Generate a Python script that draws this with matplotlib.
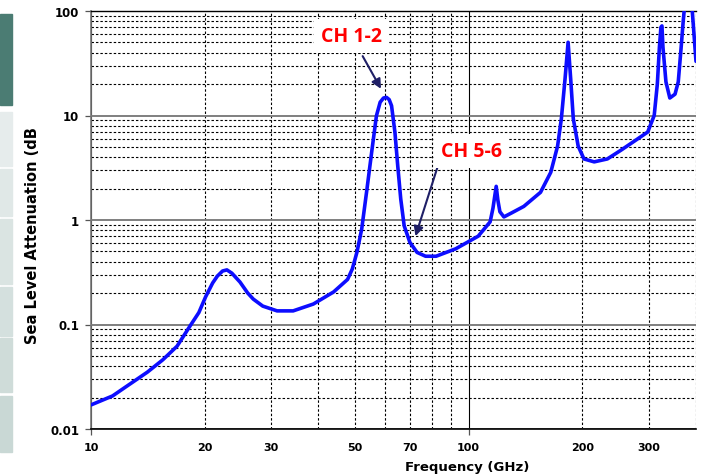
import numpy as np
import matplotlib
matplotlib.use("Agg")
import matplotlib.pyplot as plt
from matplotlib.patches import Rectangle
from matplotlib.ticker import LogLocator, FixedLocator, NullFormatter

# sea level attenuation (GHz, dB)
freq = [10, 11.4, 12.5, 14.1, 15.5, 16.9, 18.3, 19.3, 20.1, 21.0, 21.6, 22.3,
        22.9, 23.6, 24.8, 26.0, 26.9, 28.5, 31.1, 34.3, 38.8, 43.9, 47.8, 49.2,
        50.6, 52.1, 53.8, 55.5, 57.0, 58.3, 59.5, 60.6, 61.6, 62.5, 63.8, 64.9,
        66.1, 67.5, 69.9, 73.0, 76.9, 82, 92.4, 106, 114, 116, 118.3, 119.5,
        121, 124, 130, 140, 155, 165, 172, 176, 180, 183.4, 186.3, 189.3, 195,
        202, 215, 233, 253, 275, 298, 310, 316, 320, 323, 325, 327, 333, 341,
        352, 359, 365, 370, 376, 384, 391, 400]
atten = [0.017, 0.0207, 0.026, 0.035, 0.046, 0.062, 0.097, 0.13, 0.183, 0.25,
         0.29, 0.325, 0.333, 0.31, 0.255, 0.2, 0.175, 0.15, 0.135, 0.135,
         0.157, 0.205, 0.27, 0.34, 0.49, 0.82, 1.98, 4.78, 9.95, 13.4, 14.7,
         14.9, 14.2, 12.4, 6.9, 3.3, 1.59, 0.88, 0.61, 0.49, 0.45, 0.45, 0.53,
         0.70, 0.96, 1.3, 2.1, 1.55, 1.2, 1.07, 1.17, 1.35, 1.84, 2.86, 5.1,
         9.3, 22.4, 50.2, 22.4, 9.3, 5.1, 3.84, 3.6, 3.84, 4.65, 5.7, 6.95, 10,
         20, 45, 70, 72, 45, 21, 14.7, 16, 21, 43, 80, 150, 180, 100, 33]

x_labels = [10, 20, 30, 50, 70, 100, 200, 300]
y_labels = [0.01, 0.1, 1, 10, 100]

fig = plt.figure(figsize=(7.1, 4.77), dpi=100)

# slide side strip on the left edge
W, H = 710, 477
strip = [(15, 106, "#4b7c73"), (113, 167, "#e6ecec"), (170, 217, "#e0e8e7"),
         (220, 285, "#dae4e2"), (288, 337, "#d4e0de"), (339, 393, "#cfdcd9"),
         (397, 453, "#c9d8d5")]
for y0, y1, col in strip:
    fig.patches.append(Rectangle((0, 1 - y1 / H), 12 / W, (y1 - y0) / H,
                                 transform=fig.transFigure, color=col, zorder=0))

ax = fig.add_axes([91 / W, 1 - 430 / H, 605 / W, 418 / H])
ax.set_xscale("log")
ax.set_yscale("log")
ax.set_xlim(10, 400)
ax.set_ylim(0.01, 100)

ax.plot(freq, atten, color="#0d0dff", lw=2.6, solid_joinstyle="round",
        solid_capstyle="round", zorder=3, clip_on=True)

# grids
ax.xaxis.set_major_locator(FixedLocator([10, 100]))
ax.xaxis.set_minor_locator(LogLocator(base=10, subs=np.arange(2, 10)))
ax.yaxis.set_major_locator(LogLocator(base=10))
ax.yaxis.set_minor_locator(LogLocator(base=10, subs=np.arange(2, 10)))
ax.xaxis.grid(True, which="major", color="black", lw=0.8, ls="-")
ax.xaxis.grid(True, which="minor", color="black", lw=0.8, ls=(0, (2.2, 1.8)))
ax.yaxis.grid(True, which="major", color="#7f7f7f", lw=1.4, ls="-")
ax.yaxis.grid(True, which="minor", color="black", lw=0.8, ls=(0, (2.2, 1.8)))
ax.set_axisbelow(True)

ax.xaxis.set_major_formatter(NullFormatter())
ax.xaxis.set_minor_formatter(NullFormatter())
ax.yaxis.set_minor_formatter(NullFormatter())
ax.set_yticks(y_labels)
ax.set_yticklabels(["0.01", "0.1", "1", "10", "100"])
ax.tick_params(axis="both", which="major", length=4, width=0.9, color="#555555")
ax.tick_params(axis="both", which="minor", length=0)
ax.tick_params(axis="y", pad=4.5)
for lab in ax.get_yticklabels():
    lab.set_fontweight("bold")
    lab.set_fontsize(8.5)
    lab.set_family("DejaVu Sans")

for v in x_labels:
    ax.text(v, -0.042, str(v), transform=ax.get_xaxis_transform(),
            ha="center", va="center", fontsize=8, fontweight="bold",
            family="DejaVu Sans")

ax.spines["right"].set_visible(False)
ax.spines["top"].set_color("black")
ax.spines["top"].set_linewidth(1.0)
ax.spines["left"].set_color("#777777")
ax.spines["left"].set_linewidth(1.2)
ax.spines["bottom"].set_color("black")
ax.spines["bottom"].set_linewidth(1.2)

fig.text(33 / W, 1 - 236 / H, "Sea Level Attenuation (dB", rotation=90,
         ha="center", va="center", fontsize=10.5, fontweight="bold",
         family="DejaVu Sans")
fig.text(467 / W, 1 - 468 / H, "Frequency (GHz)", ha="center", va="center",
         fontsize=9.5, fontweight="bold", family="DejaVu Sans")

# channel annotations
box = dict(facecolor="white", edgecolor="none", pad=5)
ax.annotate("", xy=(58.6, 18.0), xytext=(52.4, 37),
            arrowprops=dict(arrowstyle="-|>", color="#1f1f66", lw=1.5,
                            mutation_scale=14, shrinkA=0, shrinkB=0))
ax.text(49.0, 58, "CH 1-2", color="#ff0000", fontsize=14, fontweight="bold",
        ha="center", va="center", family="Open Sans", bbox=box, zorder=4)
ax.annotate("", xy=(72.3, 0.70), xytext=(83.2, 3.43),
            arrowprops=dict(arrowstyle="-|>", color="#1f1f66", lw=1.5,
                            mutation_scale=14, shrinkA=0, shrinkB=0))
ax.text(102, 4.6, "CH 5-6", color="#ff0000", fontsize=14, fontweight="bold",
        ha="center", va="center", family="Open Sans", bbox=box, zorder=4)

fig.savefig("out.png", dpi=100)
